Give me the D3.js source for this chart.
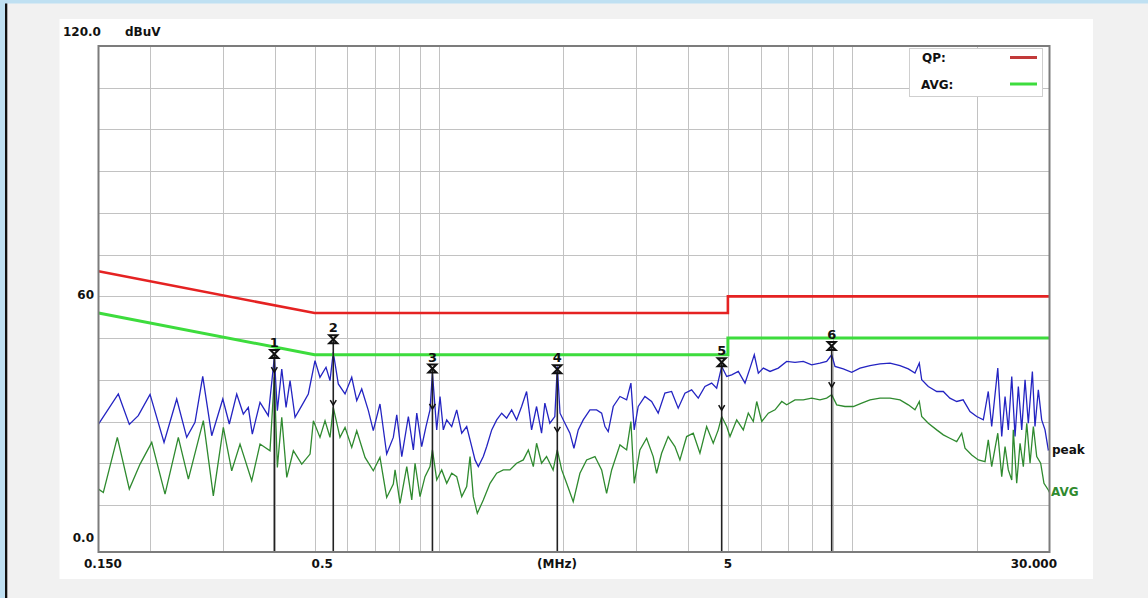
<!DOCTYPE html>
<html>
<head>
<meta charset="utf-8">
<script src="https://cdn.jsdelivr.net/npm/d3@7"></script>
<style>
  html, body { margin: 0; padding: 0; background: #bfe0f2; overflow: hidden; }
  svg { display: block; }
  text { font-family: 'DejaVu Sans', sans-serif; font-weight: bold; font-size: 12px; }
</style>
</head>
<body>
<svg id="chart" width="1148" height="598"></svg>
<script>
// peak trace (MHz, dBuV)
const peakFreq = [
  0.150, 0.1675, 0.1781, 0.1872, 0.1999, 0.2161, 0.2319, 0.2452, 0.2568, 0.2681,
  0.2819, 0.2998, 0.3109, 0.3240, 0.3361, 0.3456, 0.3534, 0.3689, 0.3863, 0.3995,
  0.4063, 0.4164, 0.4265, 0.4361, 0.4484, 0.4655, 0.4828, 0.5011, 0.5152, 0.5328,
  0.5448, 0.5548, 0.5705, 0.5924, 0.6149, 0.6323, 0.6501, 0.6746, 0.6934, 0.7197,
  0.7471, 0.7752, 0.7902, 0.8126, 0.8430, 0.8668, 0.8834, 0.9080, 0.9300, 0.9510,
  0.964, 0.9873, 1.0056, 1.0243, 1.0438, 1.0733, 1.1036, 1.1349, 1.1668, 1.2000,
  1.2222, 1.2449, 1.2799, 1.3044, 1.3412, 1.3790, 1.4178, 1.4577, 1.4987, 1.5410,
  1.5844, 1.6290, 1.6749, 1.7221, 1.7706, 1.8035, 1.8542, 1.9064, 1.933, 1.9623,
  2.0168, 2.0738, 2.1204, 2.1720, 2.2332, 2.3182, 2.4062, 2.4746, 2.5208, 2.567,
  2.6396, 2.7402, 2.8442, 2.9127, 2.9667, 3.0336, 3.1488, 3.2688, 3.3912, 3.5199,
  3.654, 3.7911, 3.936, 4.0856, 4.2388, 4.40, 4.5676, 4.6964, 4.83, 4.967,
  5.107, 5.2985, 5.50, 5.6555, 5.792, 5.924, 6.0906, 6.3228, 6.6216, 6.938,
  7.266, 7.610, 7.973, 8.350, 8.668, 8.915, 9.080, 9.510, 9.967, 10.438,
  11.036, 11.668, 12.337, 13.044, 13.662, 14.178, 14.525, 14.72, 15.271, 16.003,
  16.603, 17.221, 17.889, 18.542, 19.265, 20.0, 20.75, 21.33, 21.74, 22.49,
  22.99, 23.42, 23.85, 24.31, 24.76, 25.22, 25.70, 26.18, 26.66, 27.27,
  27.67, 28.19, 28.72, 29.26, 29.80, 30.0
];
const peakLevel = [
  29.4, 36.6, 29.3, 31.4, 36.5, 25.0, 35.4, 26.2, 29.8, 40.8,
  26.6, 35.4, 29.4, 36.6, 31.8, 33.4, 27.0, 34.6, 31.4, 45.4,
  32.6, 42.6, 33.4, 39.8, 31.0, 33.8, 36.6, 44.6, 40.6, 43.0,
  39.8, 46.6, 39.0, 36.6, 40.6, 35.0, 37.8, 32.6, 27.8, 34.2,
  22.2, 26.2, 31.6, 21.6, 31.2, 23.2, 32.0, 24.0, 28.8, 32.8,
  41.6, 28.0, 36.0, 28.0, 30.4, 28.8, 32.8, 27.2, 28.8, 24.0,
  20.8, 19.2, 21.6, 24.0, 28.0, 30.4, 32.0, 30.8, 32.8, 30.4,
  33.6, 37.2, 28.0, 33.6, 27.2, 34.4, 29.6, 31.2, 43.2, 32.0,
  29.6, 27.2, 23.6, 28.0, 30.4, 32.8, 32.8, 32.0, 28.8, 27.6,
  33.6, 36.0, 35.2, 39.2, 28.0, 33.6, 36.0, 34.8, 32.0, 36.8,
  37.2, 33.2, 36.8, 37.6, 35.6, 38.4, 39.2, 38.0, 43.2, 40.8,
  41.2, 42.0, 39.2, 42.8, 46.0, 41.6, 42.8, 42.0, 42.8, 44.4,
  44.2, 44.4, 43.6, 44.0, 44.4, 46.0, 43.2, 42.6, 41.8, 42.8,
  43.4, 43.8, 44.0, 43.4, 42.6, 41.6, 44.0, 40.0, 38.4, 37.2,
  37.2, 35.6, 34.8, 35.2, 32.4, 31.2, 30.4, 37.2, 28.8, 42.8,
  26.4, 36.0, 28.0, 40.8, 26.4, 38.4, 28.0, 40.0, 29.6, 42.0,
  28.8, 37.6, 30.4, 28.0, 23.2, 23.4
];

// average trace (MHz, dBuV)
const avgFreq = [
  0.150, 0.1541, 0.1666, 0.1781, 0.1891, 0.2018, 0.2173, 0.2340, 0.2475, 0.2690,
  0.2844, 0.3007, 0.3151, 0.3300, 0.3522, 0.3689, 0.3900, 0.3995, 0.4063, 0.4164,
  0.4282, 0.4442, 0.4655, 0.4875, 0.4966, 0.5152, 0.5299, 0.5448, 0.5548, 0.5760,
  0.5924, 0.6149, 0.6323, 0.6622, 0.6934, 0.7197, 0.7471, 0.7752, 0.7828, 0.8049,
  0.8355, 0.8591, 0.875, 0.8995, 0.9249, 0.951, 0.964, 0.9873, 1.0151, 1.0438,
  1.0733, 1.1036, 1.1349, 1.1668, 1.1886, 1.2105, 1.2379, 1.2799, 1.3287, 1.3790,
  1.4309, 1.4846, 1.5410, 1.5994, 1.6448, 1.6911, 1.7221, 1.7706, 1.8205, 1.8884,
  1.933, 1.9809, 2.036, 2.1122, 2.1926, 2.2758, 2.384, 2.4746, 2.544, 2.6164,
  2.7402, 2.8442, 2.9127, 2.9667, 3.0624, 3.1791, 3.2982, 3.3612, 3.456, 3.585,
  3.7221, 3.8271, 3.973, 4.122, 4.2788, 4.4416, 4.608, 4.7384, 4.83, 4.967,
  5.059, 5.2515, 5.448, 5.602, 5.76, 5.871, 6.037, 6.263, 6.501, 6.749,
  6.938, 7.266, 7.610, 7.973, 8.350, 8.668, 8.915, 9.167, 9.600, 10.056,
  10.538, 11.036, 11.668, 12.337, 13.044, 13.662, 14.178, 14.525, 14.72, 15.271,
  16.003, 16.603, 17.221, 17.889, 18.396, 18.737, 19.45, 20.18, 20.95, 21.33,
  21.74, 22.49, 22.99, 23.42, 23.85, 24.31, 24.52, 24.99, 25.46, 25.93,
  26.43, 26.92, 27.42, 27.94, 28.56, 29.09, 29.80, 30.0
];
const avgLevel = [
  13.8, 13.0, 26.2, 13.8, 19.8, 25.0, 12.6, 26.2, 16.2, 30.2,
  12.2, 28.6, 18.2, 24.6, 15.8, 24.6, 23.0, 40.6, 19.0, 31.0,
  16.6, 23.0, 19.8, 22.2, 30.2, 26.2, 30.2, 26.2, 33.4, 26.2,
  28.6, 23.8, 27.8, 21.4, 18.2, 21.4, 11.8, 15.0, 18.4, 10.4,
  19.2, 11.2, 20.0, 12.0, 16.8, 19.2, 23.2, 16.0, 18.4, 15.2,
  17.6, 16.8, 12.0, 14.4, 21.6, 12.0, 8.0, 11.2, 15.2, 17.6,
  18.4, 18.4, 20.0, 20.8, 23.2, 19.2, 24.8, 20.0, 21.6, 18.4,
  23.2, 18.4, 15.2, 10.8, 17.6, 20.8, 21.6, 18.4, 12.8, 18.4,
  24.4, 23.2, 30.0, 15.2, 23.2, 26.0, 21.6, 17.6, 22.4, 26.4,
  24.0, 20.8, 26.4, 27.2, 22.4, 28.8, 24.8, 28.0, 31.2, 28.8,
  26.4, 30.4, 28.0, 32.0, 30.0, 34.8, 30.0, 32.0, 32.8, 34.8,
  34.0, 35.2, 35.2, 35.6, 35.2, 35.6, 36.4, 34.0, 33.6, 33.6,
  34.4, 35.2, 35.6, 35.6, 35.2, 34.0, 32.8, 34.8, 31.2, 29.6,
  28.0, 26.8, 26.0, 25.2, 27.2, 23.6, 22.0, 20.8, 20.4, 25.6,
  19.2, 27.2, 16.8, 24.0, 18.4, 16.0, 28.0, 15.2, 24.8, 19.2,
  29.6, 20.0, 28.8, 21.6, 20.0, 15.2, 13.6, 13.0
];

// limit lines
const qpLimitFreq = [0.15, 0.5, 5, 5, 30];
const qpLimitLevel = [66, 56, 56, 60, 60];
const avgLimitFreq = [0.15, 0.5, 5, 5, 30];
const avgLimitLevel = [56, 46, 46, 50, 50];

// markers
const markerFreq = [0.3995, 0.5548, 0.964, 1.933, 4.83, 8.915];
const markerPeak = [46.2, 49.7, 42.7, 42.5, 44.2, 48.1];
const markerAvg = [42.3, 34.4, 33.5, 28.0, 33.2, 38.7];

// axis labels
const xTickValues = [0.15, 0.5, 5, 30];
const xTickLabels = ['0.150', '0.5', '5', '30.000'];
const yTickValues = [120, 60, 0];
const yTickLabels = ['120.0', '60', '0.0'];

const svg = d3.select('#chart');

const plotLeft = 98.5, plotRight = 1049.5, plotTop = 46, plotBottom = 552;

const x = d3.scaleLog().domain([0.15, 30]).range([plotLeft, plotRight]);
const y = d3.scaleLinear().domain([0, 120]).range([546.7, plotTop]);

// window background
svg.append('rect').attr('x', 7).attr('y', 3.5).attr('width', 1141).attr('height', 595).attr('fill', '#f1f1f1');
svg.append('rect').attr('x', 5).attr('y', 3.5).attr('width', 2.3).attr('height', 595).attr('fill', '#111');
svg.append('rect').attr('x', 59.5).attr('y', 19).attr('width', 1033.5).attr('height', 560).attr('fill', '#fff');

// grid
const grid = svg.append('g');
grid.selectAll('.hgrid')
  .data(d3.range(10, 120, 10))
  .enter()
  .append('line')
  .attr('x1', plotLeft).attr('x2', plotRight)
  .attr('y1', d => Math.round(y(d)) + 0.5).attr('y2', d => Math.round(y(d)) + 0.5)
  .attr('stroke', '#c2c2c2').attr('stroke-width', 1);

grid.selectAll('.vgrid')
  .data(x.ticks().filter(d => d > 0.15 && d < 30))
  .enter()
  .append('line')
  .attr('x1', d => Math.round(x(d)) + 0.5).attr('x2', d => Math.round(x(d)) + 0.5)
  .attr('y1', plotTop).attr('y2', plotBottom)
  .attr('stroke', '#c2c2c2').attr('stroke-width', 1);

// traces
const traceLine = d3.line().x(d => x(d[0])).y(d => y(d[1]));

svg.append('path')
  .attr('d', traceLine(d3.zip(peakFreq, peakLevel)))
  .attr('fill', 'none').attr('stroke', '#2424c2').attr('stroke-width', 1.3);

svg.append('path')
  .attr('d', traceLine(d3.zip(avgFreq, avgLevel)))
  .attr('fill', 'none').attr('stroke', '#2f8a2f').attr('stroke-width', 1.3);

// limits
svg.append('path')
  .attr('d', traceLine(d3.zip(qpLimitFreq, qpLimitLevel)))
  .attr('fill', 'none').attr('stroke', '#e52222').attr('stroke-width', 2.6);

svg.append('path')
  .attr('d', traceLine(d3.zip(avgLimitFreq, avgLimitLevel)))
  .attr('fill', 'none').attr('stroke', '#3ddc3d').attr('stroke-width', 3);

// markers
const markers = svg.selectAll('.marker')
  .data(markerFreq.map((f, i) => ({ f, peak: markerPeak[i], avg: markerAvg[i], n: i + 1 })))
  .enter()
  .append('g')
  .classed('marker', true);

markers.append('line')
  .attr('x1', d => x(d.f)).attr('x2', d => x(d.f))
  .attr('y1', d => y(d.peak)).attr('y2', plotBottom)
  .attr('stroke', '#222').attr('stroke-width', 1.6);

markers.append('path')
  .attr('transform', d => `translate(${x(d.f)}, ${y(d.peak)})`)
  .attr('d', 'M-4,-4H4L-4,4H4Z')
  .attr('fill', 'none').attr('stroke', '#111').attr('stroke-width', 2);

markers.append('path')
  .attr('transform', d => `translate(${x(d.f)}, ${y(d.avg)})`)
  .attr('d', 'M-3,-3L0,2L3,-3')
  .attr('fill', 'none').attr('stroke', '#111').attr('stroke-width', 1.5);

markers.append('text')
  .attr('x', d => x(d.f)).attr('y', d => y(d.peak) - 7)
  .attr('text-anchor', 'middle')
  .attr('fill', '#111')
  .style('font-size', '13px')
  .text(d => d.n);

// frame
svg.append('rect')
  .attr('x', plotLeft).attr('y', plotTop)
  .attr('width', plotRight - plotLeft).attr('height', plotBottom - plotTop)
  .attr('fill', 'none').attr('stroke', '#7c7c7c').attr('stroke-width', 2);

// y labels
const yLabelPos = [{ x: 63, y: 36, anchor: 'start' }, { x: 94, y: 299, anchor: 'end' }, { x: 94, y: 542, anchor: 'end' }];
svg.selectAll('.ylab')
  .data(yTickLabels)
  .enter()
  .append('text')
  .attr('x', (_, i) => yLabelPos[i].x)
  .attr('y', (_, i) => yLabelPos[i].y)
  .attr('text-anchor', (_, i) => yLabelPos[i].anchor)
  .attr('fill', '#111')
  .text(d => d);
svg.append('text').attr('x', 125).attr('y', 36).attr('fill', '#111').text('dBuV');

// x labels
const xLabelShift = [{ dx: -14.5, anchor: 'start' }, { dx: -3, anchor: 'start' }, { dx: 0, anchor: 'middle' }, { dx: 7.5, anchor: 'end' }];
svg.selectAll('.xlab')
  .data(xTickValues)
  .enter()
  .append('text')
  .attr('x', (d, i) => x(d) + xLabelShift[i].dx)
  .attr('y', 568)
  .attr('text-anchor', (_, i) => xLabelShift[i].anchor)
  .attr('fill', '#111')
  .text((_, i) => xTickLabels[i]);
svg.append('text').attr('x', 557).attr('y', 568).attr('text-anchor', 'middle').attr('fill', '#111').text('(MHz)');

// trace names at right end
svg.append('text').attr('x', 1052).attr('y', 454).attr('fill', '#111').text('peak');
svg.append('text').attr('x', 1051).attr('y', 496).attr('fill', '#2f8a2f').text('AVG');

// legend
const legend = svg.append('g');
legend.append('rect')
  .attr('x', 909.5).attr('y', 48.5).attr('width', 133).attr('height', 48)
  .attr('fill', '#fff').attr('stroke', '#cfcfcf');
legend.append('text').attr('x', 922).attr('y', 62).attr('fill', '#111').text('QP:');
legend.append('text').attr('x', 921).attr('y', 89).attr('fill', '#111').text('AVG:');
legend.append('line')
  .attr('x1', 1010).attr('x2', 1037).attr('y1', 57.5).attr('y2', 57.5)
  .attr('stroke', '#c23a3a').attr('stroke-width', 3);
legend.append('line')
  .attr('x1', 1010).attr('x2', 1037).attr('y1', 84).attr('y2', 84)
  .attr('stroke', '#3ddc3d').attr('stroke-width', 3);
</script>
</body>
</html>
